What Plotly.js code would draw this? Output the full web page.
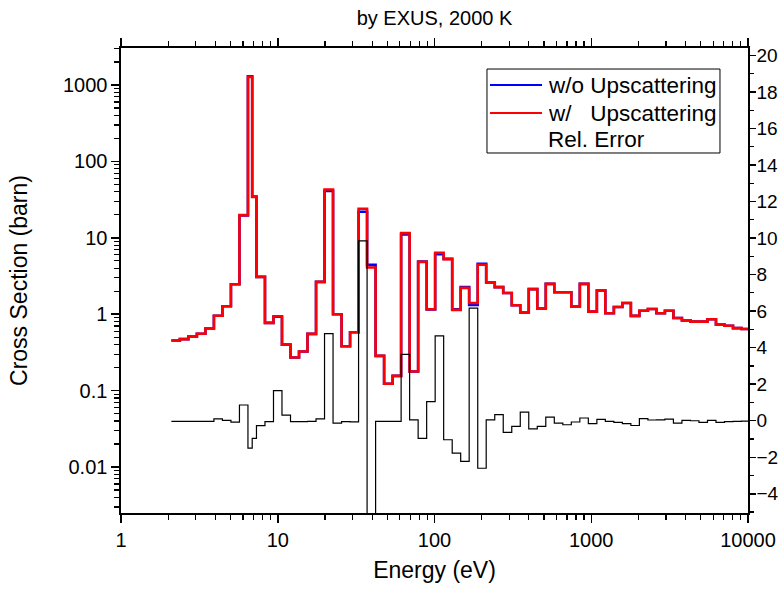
<!DOCTYPE html>
<html><head><meta charset="utf-8">
<script src="https://cdn.plot.ly/plotly-3.0.1.min.js"></script>
<style>body{margin:0;background:#fff}#chart{width:778px;height:590px}</style>
</head><body><div id="chart"></div>
<script>
// Group boundaries (eV)
const energyEdges = [2.096, 2.375, 2.691, 3.049, 3.456, 3.915, 4.436, 5.027, 5.697, 6.455, 6.871, 7.315, 8.288, 9.393, 10.64, 12.06, 13.67, 15.48, 17.55, 19.88, 22.53, 25.53, 28.93, 32.78, 37.15, 42.10, 47.70, 54.05, 61.24, 69.40, 78.64, 89.12, 100.98, 114.4, 129.7, 146.9, 166.4, 188.7, 213.7, 242.3, 274.5, 311.1, 352.5, 399.3, 452.6, 512.8, 581.1, 658.5, 746.1, 845.5, 958.0, 1086, 1230, 1394, 1580, 1790, 2028, 2298, 2604, 2951, 3344, 3789, 4294, 4866, 5514, 6247, 7079, 8022, 9090, 10300];
// Cross section with upscattering (barn)
const withUpscatter = [0.453, 0.472, 0.511, 0.554, 0.649, 0.953, 1.27, 2.47, 19.8, 1277, 34.3, 3.08, 0.77, 0.94, 0.40, 0.271, 0.325, 0.553, 2.65, 42.9, 1.0, 0.381, 0.58, 24.0, 4.08, 0.285, 0.123, 0.156, 11.5, 0.178, 4.84, 1.16, 6.37, 5.25, 1.14, 2.21, 1.40, 4.43, 2.6, 2.26, 1.89, 1.31, 1.05, 2.13, 1.19, 2.49, 1.94, 1.94, 1.26, 2.49, 1.08, 2.04, 1.03, 1.24, 1.40, 0.95, 1.11, 1.17, 1.03, 1.11, 0.89, 0.83, 0.80, 0.80, 0.86, 0.73, 0.705, 0.657, 0.64];
// Cross section without upscattering (barn)
const withoutUpscatter = [0.453, 0.472, 0.511, 0.554, 0.649, 0.953, 1.27, 2.47, 19.6, 1296, 34.6, 3.08, 0.77, 0.925, 0.40, 0.271, 0.325, 0.553, 2.65, 41.0, 1.0, 0.381, 0.58, 21.9, 4.42, 0.285, 0.123, 0.156, 11.1, 0.178, 4.89, 1.15, 6.09, 5.30, 1.16, 2.26, 1.32, 4.55, 2.6, 2.26, 1.89, 1.31, 1.05, 2.13, 1.19, 2.49, 1.94, 1.94, 1.26, 2.49, 1.08, 2.04, 1.03, 1.24, 1.40, 0.95, 1.11, 1.17, 1.03, 1.11, 0.89, 0.83, 0.80, 0.80, 0.86, 0.73, 0.705, 0.657, 0.64];
// Relative error (%)
const relError = [-0.03, -0.03, -0.03, -0.03, -0.03, 0.1, 0.02, -0.08, 0.86, -1.5, -0.97, -0.27, -0.05, 1.65, 0.31, -0.05, -0.05, -0.03, 0.1, 4.77, -0.13, -0.05, -0.06, 9.84, -7.6, -0.03, -0.03, -0.03, 3.63, 0.05, -0.97, 1.05, 4.64, -1.04, -1.77, -2.22, 6.16, -2.6, 0.05, 0.33, -0.64, -0.31, 0.47, -0.45, -0.31, 0.2, -0.13, -0.22, -0.07, 0.15, -0.16, 0.07, -0.04, -0.09, -0.16, -0.26, 0.11, 0.04, 0.05, 0.09, -0.13, 0.02, 0.0, -0.09, 0.02, -0.09, -0.05, -0.03, -0.02];

const seriesNames = ['w/o Upscattering', 'w/\u00a0\u00a0\u00a0Upscattering', 'Rel. Error'];
const seriesColors = ['#0000FF', '#FF0000', '#000000'];

function stairs(vals){ return vals.concat([vals[vals.length-1]]); }

const FONT = 'Arial, "Liberation Sans", sans-serif';

const traces = [
  {x: energyEdges, y: stairs(relError), yaxis: 'y2', type: 'scatter', mode: 'lines', name: seriesNames[2],
   line: {shape: 'hv', color: seriesColors[2], width: 1.2}, showlegend: false, hoverinfo: 'skip'},
  {x: energyEdges, y: stairs(withoutUpscatter), type: 'scatter', mode: 'lines', name: seriesNames[0],
   line: {shape: 'hv', color: seriesColors[0], width: 2.6}, showlegend: false},
  {x: energyEdges, y: stairs(withUpscatter), type: 'scatter', mode: 'lines', name: seriesNames[1],
   line: {shape: 'hv', color: seriesColors[1], width: 2.6}, showlegend: false}
];

// Legend box drawn in paper coordinates (Origin-style legend)
const lgX0 = 0.5837, lgX1 = 0.9553, lgY0 = 0.7742, lgY1 = 0.9548;
const lgRows = [0.9204, 0.8602, 0.8022];
const lgLineX = [0.5885, 0.6715];
const lgTextX = 0.680;

const shapes = [
  {type: 'rect', xref: 'paper', yref: 'paper', x0: lgX0, x1: lgX1, y0: lgY0, y1: lgY1,
   line: {color: '#000', width: 1}, fillcolor: '#fff', layer: 'above'},
  {type: 'line', xref: 'paper', yref: 'paper', x0: lgLineX[0], x1: lgLineX[1], y0: lgRows[0], y1: lgRows[0],
   line: {color: seriesColors[0], width: 2}, layer: 'above'},
  {type: 'line', xref: 'paper', yref: 'paper', x0: lgLineX[0], x1: lgLineX[1], y0: lgRows[1], y1: lgRows[1],
   line: {color: seriesColors[1], width: 2}, layer: 'above'}
];
const annotations = seriesNames.map((t, i) => ({
  text: t, xref: 'paper', yref: 'paper', x: lgTextX, y: lgRows[i],
  xanchor: 'left', yanchor: 'middle', showarrow: false, borderpad: 0,
  font: {family: FONT, size: 22.5, color: '#000'}
}));

const axisCommon = {
  showline: true, linecolor: '#000', linewidth: 1.6,
  ticks: 'outside', tickcolor: '#000', tickwidth: 1.5, ticklen: 8,
  showgrid: false, zeroline: false,
  tickfont: {family: FONT, size: 20, color: '#000'}
};

const layout = {
  width: 778, height: 590,
  margin: {l: 121, r: 30, t: 48, b: 77},
  paper_bgcolor: '#fff', plot_bgcolor: '#fff',
  font: {family: FONT, color: '#000'},
  title: {text: 'by EXUS, 2000 K', font: {family: FONT, size: 20, color: '#000'},
          x: 0.5, xref: 'paper', xanchor: 'center', y: 0.969, yref: 'container', yanchor: 'middle'},
  xaxis: Object.assign({}, axisCommon, {
    type: 'log', range: [0, 4], dtick: 1, tick0: 0, tickformat: 'd', mirror: 'ticks',
    minor: {ticks: 'outside', ticklen: 5, tickcolor: '#000', tickwidth: 1.2, dtick: 'D1', showgrid: false},
    title: {text: 'Energy (eV)', font: {family: FONT, size: 23, color: '#000'}, standoff: 12}
  }),
  yaxis: Object.assign({}, axisCommon, {
    type: 'log', range: [-2.602, 3.484], dtick: 1, exponentformat: 'none',
    minor: {ticks: 'outside', ticklen: 5, tickcolor: '#000', tickwidth: 1.2, dtick: 'D1', showgrid: false},
    title: {text: 'Cross Section (barn)', font: {family: FONT, size: 23, color: '#000'}, standoff: 29}
  }),
  yaxis2: Object.assign({}, axisCommon, {
    overlaying: 'y', side: 'right', range: [-5.05, 20.4], dtick: 2, tick0: 0,
    ticklen: 6, ticklabelstandoff: -3,
    tickfont: {family: FONT, size: 19, color: '#000'},
    minor: {ticks: 'outside', ticklen: 4, tickcolor: '#000', tickwidth: 1.2, dtick: 1},
    showline: true
  }),
  showlegend: false,
  shapes: shapes,
  annotations: annotations
};

Plotly.newPlot('chart', traces, layout, {staticPlot: true, displayModeBar: false});
</script>
</body></html>
